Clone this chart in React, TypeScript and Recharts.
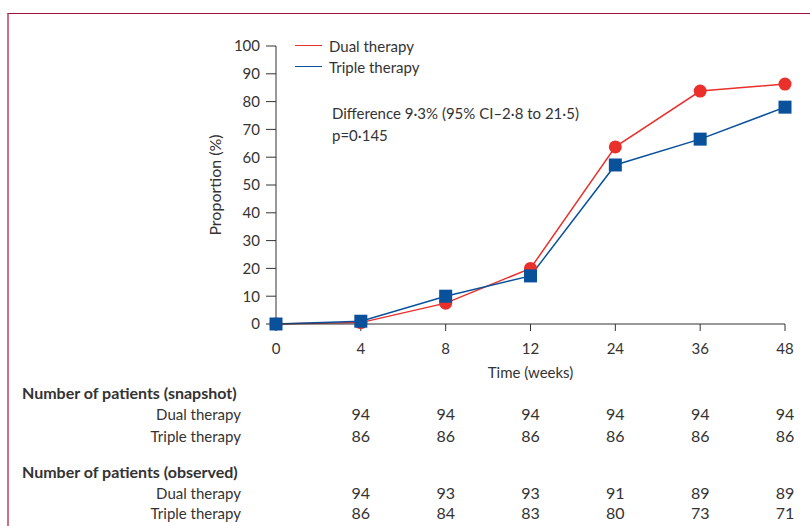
import { LineChart, Line, XAxis, YAxis, Legend } from 'recharts';

// proportion of patients (%) per visit week
const weeks = ['0', '4', '8', '12', '24', '36', '48'];
const dualTherapy = [0, 0.5, 7.5, 20, 63.7, 83.8, 86.3];
const tripleTherapy = [0, 1, 10, 17.3, 57.2, 66.5, 78];
const yTicks = [0, 10, 20, 30, 40, 50, 60, 70, 80, 90, 100];

// numbers at risk, weeks 4..48
const tableWeeks = ['4', '8', '12', '24', '36', '48'];
const snapshotDual = [94, 94, 94, 94, 94, 94];
const snapshotTriple = [86, 86, 86, 86, 86, 86];
const observedDual = [94, 93, 93, 91, 89, 89];
const observedTriple = [86, 84, 83, 80, 73, 71];

const RED = '#e9302a';
const BLUE = '#0a519c';
const TEXT = '#333333';
const FONT = 'Lato, "Open Sans", sans-serif';

const W = 810;
const H = 526;
const margin = { top: 46, right: 25, bottom: 142, left: 196 };
const yAxisWidth = 80;
const plotLeft = margin.left + yAxisWidth;
const plotWidth = W - margin.right - plotLeft;

const chartData = weeks.map((w, i) => ({
  week: w,
  dual: dualTherapy[i],
  triple: tripleTherapy[i],
}));

const SquareDot = (props: any) => {
  const { cx, cy, index } = props;
  if (cx == null || cy == null) return null;
  return <rect key={`sq-${index}`} x={cx - 6.5} y={cy - 6.5} width={13} height={13} fill={BLUE} />;
};

const YTitle = (props: any) => {
  const { viewBox } = props;
  const cy = viewBox.y + viewBox.height / 2;
  const cx = 214;
  return (
    <text
      x={cx}
      y={cy}
      transform={`rotate(-90, ${cx}, ${cy})`}
      textAnchor="middle"
      dominantBaseline="central"
      fill={TEXT}
      fontSize={16}
      fontFamily={FONT}
    >
      Proportion (%)
    </text>
  );
};

const renderLegend = (props: any) => {
  const { payload = [] } = props;
  return (
    <div style={{ fontFamily: FONT, fontSize: 15, color: TEXT }}>
      {payload.map((p: any) => (
        <div key={p.value} style={{ display: 'flex', alignItems: 'center', height: 21 }}>
          <span style={{ display: 'inline-block', width: 27, height: 1.5, background: p.color, marginRight: 7 }} />
          <span>{p.value}</span>
        </div>
      ))}
    </div>
  );
};

const colX = (i: number) => plotLeft + ((i + 1) * plotWidth) / (weeks.length - 1);

const TableRow = ({ label, values, top }: { label: string; values: number[]; top: number }) => (
  <>
    <div style={{ position: 'absolute', right: W - 241, top, lineHeight: '18px', whiteSpace: 'nowrap' }}>{label}</div>
    {values.map((v, i) => (
      <div
        key={tableWeeks[i]}
        style={{ position: 'absolute', left: colX(i) - 20, width: 40, textAlign: 'center', top, lineHeight: '18px', fontSize: 16 }}
      >
        {v}
      </div>
    ))}
  </>
);

const headingStyle = {
  position: 'absolute' as const,
  left: 22,
  fontWeight: 700,
  fontSize: 16,
  lineHeight: '18px',
  whiteSpace: 'nowrap' as const,
};

export default function App() {
  return (
    <div style={{ position: 'absolute', left: 0, top: 0, width: W, height: H, background: '#fff' }}>
      <div
        style={{
          position: 'absolute',
          left: 7,
          top: 13,
          width: W - 7,
          height: H - 13,
          borderTop: '1px solid #9e1039',
          borderLeft: '2px solid #cf6c86',
          boxSizing: 'border-box',
        }}
      />
      <LineChart width={W} height={H} data={chartData} margin={margin}>
        <XAxis
          dataKey="week"
          stroke={TEXT}
          tickSize={7}
          tickMargin={12}
          height={60}
          tick={{ fill: TEXT, fontSize: 15, fontFamily: FONT }}
          label={{ value: 'Time (weeks)', position: 'insideBottom', offset: 6, fill: TEXT, fontSize: 15, fontFamily: FONT }}
        />
        <YAxis
          domain={[0, 100]}
          ticks={yTicks}
          width={yAxisWidth}
          stroke={TEXT}
          tickSize={10}
          tickMargin={6}
          interval={0}
          tick={{ fill: TEXT, fontSize: 15, fontFamily: FONT }}
          label={<YTitle />}
        />
        <Legend
          layout="vertical"
          align="center"
          verticalAlign="middle"
          content={renderLegend}
          wrapperStyle={{ left: 295, top: 35, width: 200, height: 42 }}
        />
        <Line
          type="linear"
          dataKey="dual"
          name="Dual therapy"
          stroke={RED}
          strokeWidth={1.5}
          dot={{ r: 6.5, fill: RED, stroke: RED, strokeWidth: 0 }}
          activeDot={false}
          isAnimationActive={false}
        />
        <Line
          type="linear"
          dataKey="triple"
          name="Triple therapy"
          stroke={BLUE}
          strokeWidth={1.5}
          dot={<SquareDot />}
          activeDot={false}
          isAnimationActive={false}
        />
      </LineChart>

      <div style={{ position: 'absolute', left: 332, top: 102, fontFamily: FONT, fontSize: 15, color: TEXT, lineHeight: '22px' }}>
        <div>Difference 9·3% (95% CI–2·8 to 21·5)</div>
        <div>p=0·145</div>
      </div>

      <div style={{ fontFamily: FONT, fontSize: 15, color: TEXT }}>
        <div style={{ ...headingStyle, top: 384 }}>Number of patients (snapshot)</div>
        <TableRow label="Dual therapy" values={snapshotDual} top={405} />
        <TableRow label="Triple therapy" values={snapshotTriple} top={427} />
        <div style={{ ...headingStyle, top: 463 }}>Number of patients (observed)</div>
        <TableRow label="Dual therapy" values={observedDual} top={484} />
        <TableRow label="Triple therapy" values={observedTriple} top={504} />
      </div>
    </div>
  );
}
